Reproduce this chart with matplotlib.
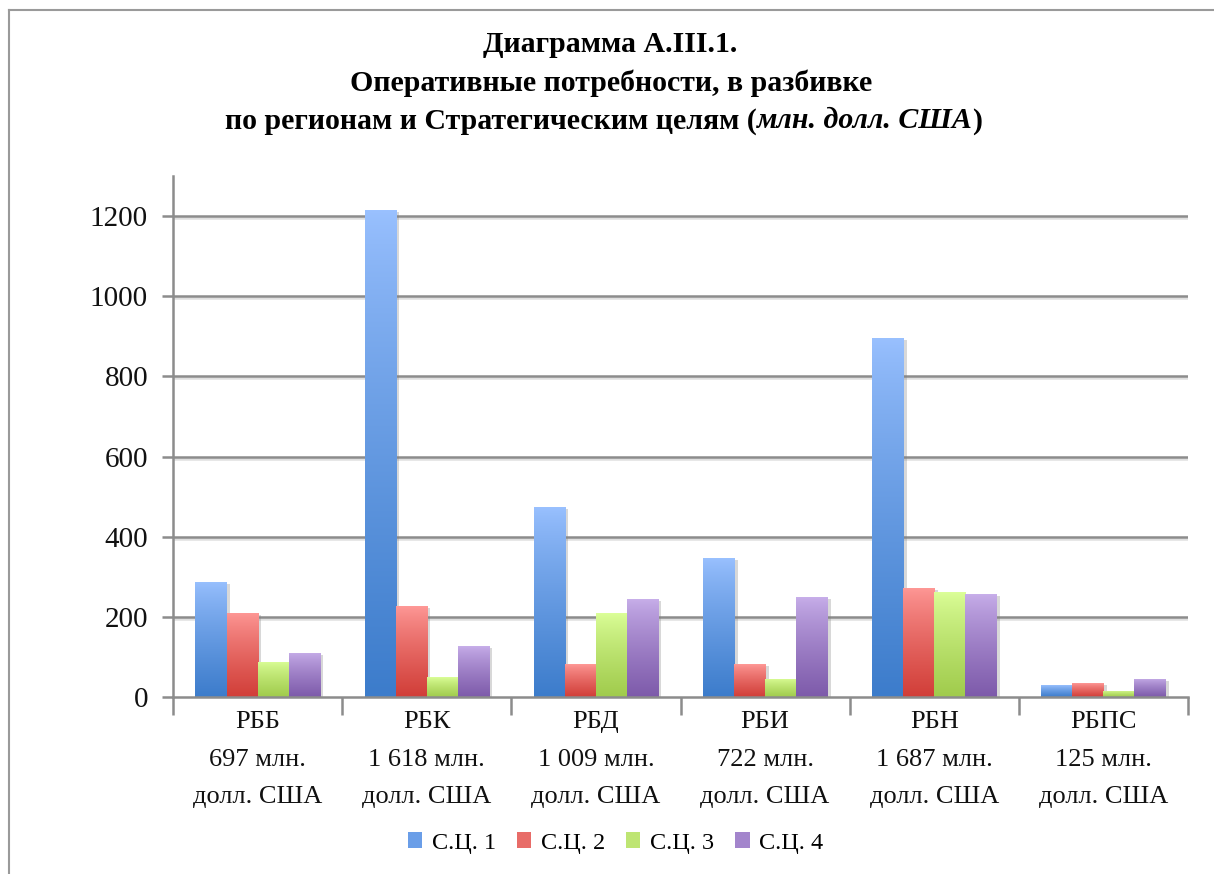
import numpy as np
import matplotlib
matplotlib.use("Agg")
import matplotlib.pyplot as plt
from matplotlib.patches import Patch
from matplotlib.lines import Line2D
import matplotlib.patheffects as pe
from matplotlib.colors import to_rgb
from matplotlib.offsetbox import TextArea, HPacker, AnchoredOffsetbox

plt.rcParams['font.family'] = ['Liberation Serif', 'DejaVu Serif']

# ---- data ----
regions = ["РББ", "РБК", "РБД", "РБИ", "РБН", "РБПС"]
totals = ["697", "1 618", "1 009", "722", "1 687", "125"]
series_names = ["С.Ц. 1", "С.Ц. 2", "С.Ц. 3", "С.Ц. 4"]
sc1 = [288, 1215, 474, 346, 896, 29]
sc2 = [210, 227, 82, 82, 273, 34]
sc3 = [88, 49, 209, 45, 261, 16]
sc4 = [111, 127, 244, 249, 257, 46]
series = [sc1, sc2, sc3, sc4]
yticks = [0, 200, 400, 600, 800, 1000, 1200]

top_colors = ["#9AC1FF", "#FF9A98", "#DCFF99", "#C8AFEA"]
bot_colors = ["#3C7CCB", "#D13E38", "#A0CB4C", "#7D5AAA"]

cat_labels = [f"{r}\n{t} млн.\nдолл. США" for r, t in zip(regions, totals)]

fig = plt.figure(figsize=(12.14, 8.74), dpi=100)
ax = fig.add_axes([173/1214, 1-697/874, (1188-173)/1214, (697-176)/874])

# outer frame (top and left)
fig.add_artist(Line2D([9/1214, 9/1214], [0, 1-10/874], transform=fig.transFigure, color="#9a9a9a", lw=1.5))
fig.add_artist(Line2D([9/1214, 1], [1-10/874, 1-10/874], transform=fig.transFigure, color="#9a9a9a", lw=1.5))

x = np.arange(len(regions))
w = 0.1835
grid_col = "#8c8c8c"

ax.set_xlim(-0.5, len(regions) - 0.5)
ax.set_ylim(0, 1300)

for yv in yticks[1:]:
    ax.axhline(yv, color=grid_col, lw=1.8, zorder=1,
               path_effects=[pe.SimpleLineShadow(offset=(0, -1.5), shadow_color="gray", alpha=0.25), pe.Normal()])

def grad(c_top, c_bot, n=256):
    t = np.linspace(0, 1, n) ** 0.8
    a = np.array(to_rgb(c_top)); b = np.array(to_rgb(c_bot))
    arr = a[None, :] + (b - a)[None, :] * t[:, None]
    return arr[:, None, :]

for i, vals in enumerate(series):
    offs = (i - 1.5) * w
    bars = ax.bar(x + offs, vals, width=w, color=bot_colors[i], linewidth=0, zorder=2,
                  path_effects=[pe.SimplePatchShadow(offset=(2.5, -1.5), shadow_rgbFace="gray", alpha=0.3), pe.Normal()])
    g = grad(top_colors[i], bot_colors[i])
    for b in bars:
        x0 = b.get_x(); bw = b.get_width(); h = b.get_height()
        im = ax.imshow(g, extent=[x0, x0 + bw, 0, h], origin="upper", aspect="auto", zorder=3,
                       interpolation="bilinear")
        im.set_clip_path(b)

ax.set_xlim(-0.5, len(regions) - 0.5)
ax.set_ylim(0, 1300)

for s in ["top", "right"]:
    ax.spines[s].set_visible(False)
for s in ["left", "bottom"]:
    ax.spines[s].set_color(grid_col)
    ax.spines[s].set_linewidth(1.8)
ax.spines["bottom"].set_zorder(4)

ax.set_yticks(yticks)
ax.set_yticklabels([str(v) for v in yticks], fontsize=21, color="#111111")
ax.tick_params(axis="y", length=8, width=1.8, color=grid_col, pad=10)

ax.set_xticks(x)
ax.set_xticklabels(cat_labels, fontsize=19, color="#111111", linespacing=1.92)
ax.set_xticks(np.arange(-0.5, len(regions), 1.0), minor=True)
ax.tick_params(axis="x", which="major", length=0, pad=10)
ax.tick_params(axis="x", which="minor", length=13, width=1.8, color=grid_col)

tfs = 21.5
fig.text(0.503, 1-45/874, "Диаграмма А.III.1.", ha="center", va="center", fontsize=tfs, fontweight="bold")
fig.text(0.503, 1-83/874, "Оперативные потребности, в разбивке", ha="center", va="center", fontsize=tfs, fontweight="bold")
parts = [TextArea("по регионам и Стратегическим целям (", textprops=dict(fontsize=tfs, fontweight="bold")),
         TextArea("млн. долл. США", textprops=dict(fontsize=tfs, fontweight="bold", fontstyle="italic")),
         TextArea(")", textprops=dict(fontsize=tfs, fontweight="bold"))]
box = HPacker(children=parts, align="baseline", pad=0, sep=0)
anch = AnchoredOffsetbox(loc="center", child=box, frameon=False,
                         bbox_to_anchor=(0.497, 1-121/874), bbox_transform=fig.transFigure, borderpad=0, pad=0)
fig.add_artist(anch)

handles = [Patch(facecolor=c, edgecolor="none") for c in ["#6A9EE8", "#E86C68", "#BEE573", "#A385CC"]]
fig.legend(handles, series_names, loc="center", bbox_to_anchor=(0.507, 1-843/874), ncol=4, frameon=False,
           fontsize=17.5, handlelength=0.6, handleheight=0.6, handletextpad=0.4, columnspacing=0.85)

fig.savefig("out.png", dpi=100)
